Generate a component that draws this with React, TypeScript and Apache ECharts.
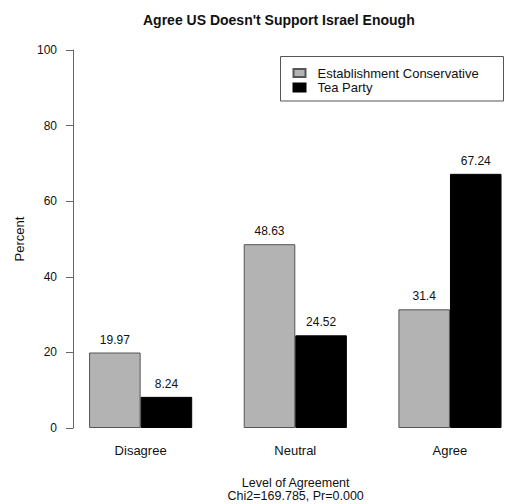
import React, { useEffect, useRef } from "react";
import * as echarts from "echarts";

const categories = ["Disagree", "Neutral", "Agree"];
const establishment = [19.97, 48.63, 31.4];
const teaParty = [8.24, 24.52, 67.24];
const seriesNames = ["Establishment Conservative", "Tea Party"];
const yTicks = { min: 0, max: 100, interval: 20 };
const titleText = "Agree US Doesn't Support Israel Enough";
const xTitleLines = ["Level of Agreement", "Chi2=169.785, Pr=0.000"];
const yTitle = "Percent";

const FONT = "'Liberation Sans', Arial, Helvetica, sans-serif";

export default function App() {
  const ref = useRef<HTMLDivElement>(null);
  useEffect(() => {
    if (!ref.current) return;
    const chart = echarts.init(ref.current, undefined, { renderer: "svg" });
    chart.setOption({
      animation: false,
      backgroundColor: "#ffffff",
      textStyle: { fontFamily: FONT },
      title: {
        text: titleText,
        left: 143,
        top: 13,
        padding: 0,
        textStyle: { fontFamily: FONT, fontSize: 14, fontWeight: "bold", color: "#111" },
      },
      legend: {
        orient: "vertical",
        left: 292.5,
        top: 66.5,
        padding: 0,
        itemWidth: 12,
        itemHeight: 8,
        itemGap: 1.5,
        icon: "rect",
        data: seriesNames,
        textStyle: { fontFamily: FONT, fontSize: 13, color: "#111", padding: [0, 0, 0, 7], lineHeight: 13 },
      },
      grid: { left: 63.3, top: 50, width: 464, bottom: 76, containLabel: false, outerBoundsMode: "none" },
      graphic: [
        {
          type: "rect",
          shape: { x: 280.5, y: 56.5, width: 223, height: 44.5 },
          style: { fill: "none", stroke: "#555", lineWidth: 1 },
          z: 1,
        },
        ...xTitleLines.map((t, i) => ({
          type: "text",
          x: 295.7,
          y: 482.7 + i * 13,
          style: {
            text: t,
            fontFamily: FONT,
            fontSize: 12.5,
            lineHeight: 12,
            fill: "#111",
            textAlign: "center",
            textVerticalAlign: "middle",
          },
        })),
      ],
      xAxis: {
        type: "category",
        data: categories,
        axisLine: { show: false },
        axisTick: { show: false },
        axisLabel: { margin: 16, fontSize: 13, color: "#111", fontFamily: FONT },
      },
      yAxis: {
        type: "value",
        min: yTicks.min,
        max: yTicks.max,
        interval: yTicks.interval,
        offset: -9.7,
        axisLine: { show: true, lineStyle: { color: "#666", width: 1 } },
        axisTick: { show: true, length: 7, lineStyle: { color: "#666" } },
        axisLabel: { margin: 16, fontSize: 12, color: "#111", fontFamily: FONT },
        splitLine: { show: false },
        name: yTitle,
        nameLocation: "middle",
        nameRotate: 90,
        nameGap: 47,
        nameTextStyle: { fontSize: 13, color: "#111", fontFamily: FONT },
      },
      series: [
        {
          name: seriesNames[0],
          type: "bar",
          data: establishment,
          barGap: "0%",
          barCategoryGap: "33.33%",
          itemStyle: { color: "#b3b3b3", borderColor: "#555", borderWidth: 1 },
          label: { show: true, position: "top", distance: 7, fontSize: 12, color: "#111", fontFamily: FONT },
        },
        {
          name: seriesNames[1],
          type: "bar",
          data: teaParty,
          barGap: "0%",
          barCategoryGap: "33.33%",
          itemStyle: { color: "#000", borderColor: "#000", borderWidth: 1 },
          label: { show: true, position: "top", distance: 7, fontSize: 12, color: "#111", fontFamily: FONT },
        },
      ],
    });
    return () => chart.dispose();
  }, []);
  return <div ref={ref} style={{ position: "fixed", left: 0, top: 0, width: 528, height: 504 }} />;
}
